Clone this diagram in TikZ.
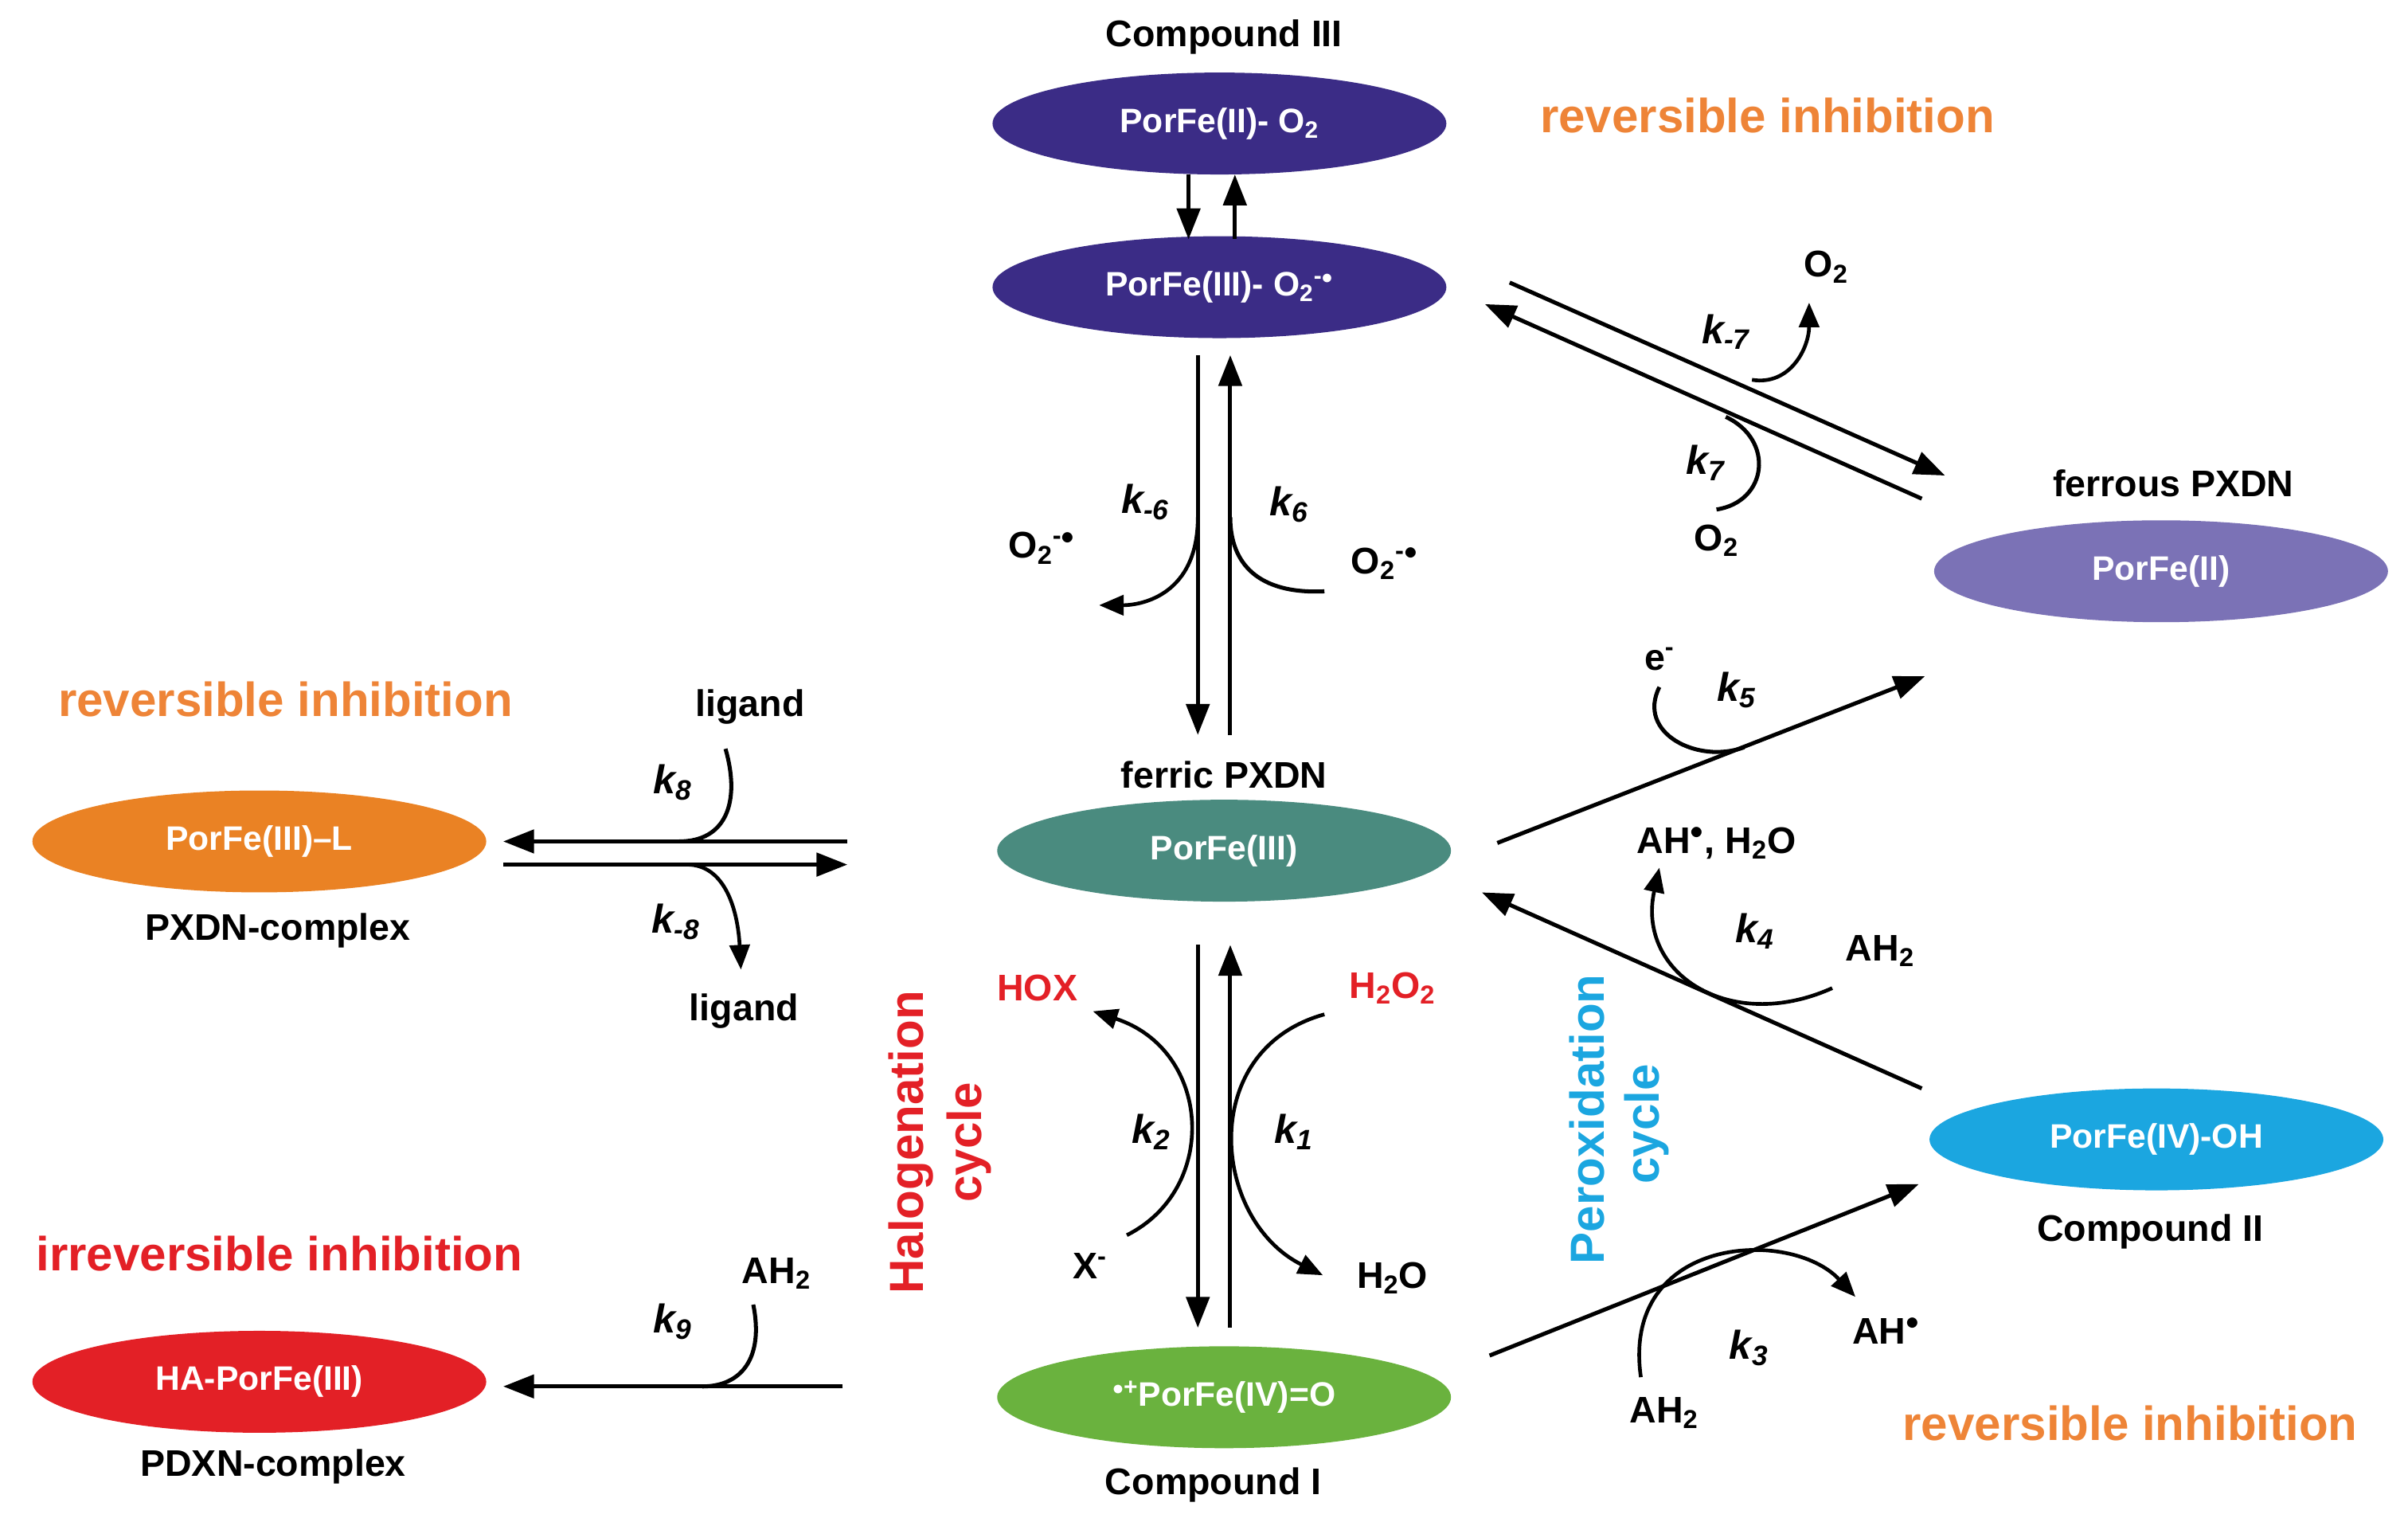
\documentclass[tikz,border=0pt]{standalone}
\usepackage{fontspec}
\setmainfont{Liberation Sans}
\usetikzlibrary{arrows.meta}
\definecolor{dpur}{HTML}{3B2C86}
\definecolor{lpur}{HTML}{7B72B6}
\definecolor{teal}{HTML}{4A8B7F}
\definecolor{orng}{HTML}{EA8224}
\definecolor{rd}{HTML}{E32026}
\definecolor{grn}{HTML}{6AB23E}
\definecolor{cyn}{HTML}{1BA6E0}
\definecolor{otxt}{HTML}{EE8437}
\begin{document}
\begin{tikzpicture}[x=1pt,y=-1pt,
 el/.style={ellipse,fill=#1,minimum width=294pt,minimum height=66pt,inner sep=0pt,text=white,font=\fontsize{22}{24}\selectfont\bfseries},
 lb/.style={font=\fontsize{24}{26}\selectfont\bfseries,inner sep=0pt},
 big/.style={font=\fontsize{31}{33}\selectfont\bfseries,inner sep=0pt},
 kk/.style={font=\fontsize{26}{28}\selectfont\bfseries\itshape,inner sep=0pt},
 ar/.style={line width=2.6pt,-{Triangle[length=20pt,width=15pt]}},
 ln/.style={line width=2.6pt},
 ca/.style={line width=2.4pt,-{Triangle[length=16pt,width=13pt]}}]
\useasboundingbox (0,0) rectangle (1560,988);
\usetikzlibrary{shapes.geometric}
\node[el=dpur] (c3) at (790,80) {PorFe(II)- O\textsubscript{2}};
\node[el=dpur] (sup) at (790,186) {PorFe(III)- O\textsubscript{2}\textsuperscript{-$\bullet$}};
\node[el=lpur] (fe2) at (1400,370) {PorFe(II)};
\node[el=teal] (fe3) at (793,551) {PorFe(III)};
\node[el=orng] (L) at (168,545) {PorFe(III)--L};
\node[el=rd] (HA) at (168,895) {HA-PorFe(III)};
\node[el=grn] (c1) at (793,905) {\textsuperscript{$\bullet$+}PorFe(IV)=O};
\node[el=cyn] (c2) at (1397,738) {PorFe(IV)-OH};
% coordinates
\coordinate (a1) at (770,113);\coordinate (a2) at (770,155);
\coordinate (b1) at (800,155);\coordinate (b2) at (800,113);
\draw[ar] (a1)--(a2); \draw[ar] (b1)--(b2);
\coordinate (d1) at (776,230);\coordinate (d2) at (776,476);
\coordinate (u1) at (797,476);\coordinate (u2) at (797,230);
\draw[ar] (d1)--(d2); \draw[ar] (u1)--(u2);
\coordinate (m1) at (776,335);\coordinate (m2) at (712,392);
\draw[ca] (m1) .. controls (776,385) and (740,392) .. (m2);
\coordinate (n1) at (858,383);\coordinate (n2) at (797,335);
\draw[ln] (n1) .. controls (815,385) and (797,365) .. (n2);
% ferrous
\coordinate (f1) at (978,183);\coordinate (f2) at (1260,308);
\coordinate (g1) at (1245,323);\coordinate (g2) at (962,197);
\draw[ar] (f1)--(f2); \draw[ar] (g1)--(g2);
\coordinate (h1) at (1135,246);\coordinate (h2) at (1172,196);
\draw[ca] (h1) .. controls (1160,250) and (1172,225) .. (h2);
\coordinate (i1) at (1118,270);\coordinate (i2) at (1112,330);
\draw[ln] (i1) .. controls (1150,285) and (1145,325) .. (i2);
% k5
\coordinate (j1) at (970,546);\coordinate (j2) at (1247,438);
\draw[ar] (j1)--(j2);
\coordinate (e1) at (1075,445);\coordinate (e2) at (1130,484);
\draw[ln] (e1) .. controls (1060,475) and (1100,495) .. (e2);
% k4
\coordinate (p1) at (1245,705);\coordinate (p2) at (960,578);
\draw[ar] (p1)--(p2);
\coordinate (q1) at (1187,640);\coordinate (q2) at (1075,562);
\draw[ca] (q1) .. controls (1120,670) and (1060,630) .. (q2);
% k3
\coordinate (r1) at (965,878);\coordinate (r2) at (1243,767);
\draw[ar] (r1)--(r2);
\coordinate (s1) at (1063,892);\coordinate (s2) at (1202,840);
\draw[ca] (s1) .. controls (1050,800) and (1160,795) .. (s2);
% ferric <-> compound I
\coordinate (t1) at (776,612);\coordinate (t2) at (776,860);
\coordinate (v1) at (797,860);\coordinate (v2) at (797,612);
\draw[ar] (t1)--(t2); \draw[ar] (v1)--(v2);
\coordinate (w1) at (858,657);\coordinate (w2) at (857,826);
\draw[ca] (w1) .. controls (775,680) and (785,790) .. (w2);
\coordinate (x1) at (730,800);\coordinate (x2) at (708,655);
\draw[ca] (x1) .. controls (790,770) and (785,680) .. (x2);
% ligand
\coordinate (l1) at (549,545);\coordinate (l2) at (326,545);
\coordinate (l3) at (326,560);\coordinate (l4) at (549,560);
\draw[ar] (l1)--(l2); \draw[ar] (l3)--(l4);
\coordinate (y1) at (470,485);\coordinate (y2) at (440,545);
\draw[ln] (y1) .. controls (480,520) and (470,545) .. (y2);
\coordinate (z1) at (445,560);\coordinate (z2) at (480,628);
\draw[ca] (z1) .. controls (470,560) and (478,590) .. (z2);
% k9
\coordinate (o1) at (546,898);\coordinate (o2) at (326,898);
\draw[ar] (o1)--(o2);
\coordinate (o3) at (488,845);\coordinate (o4) at (455,898);
\draw[ln] (o3) .. controls (495,880) and (480,898) .. (o4);
% labels
\node[lb] (t_c3) at (793,24) {Compound III};
\node[big,text=otxt] (t_r1) at (1145,75) {reversible inhibition};
\node[lb] (t_fp) at (1408,313) {ferrous PXDN};
\node[lb] (t_fe) at (793,502) {ferric PXDN};
\node[big,text=otxt] (t_r2) at (185,453) {reversible inhibition};
\node[lb] (t_pc) at (180,603) {PXDN-complex};
\node[big,text=rd] (t_ir) at (181,812) {irreversible inhibition};
\node[lb] (t_pd) at (177,950) {PDXN-complex};
\node[lb] (t_c1) at (786,962) {Compound I};
\node[lb] (t_c2) at (1393,798) {Compound II};
\node[big,text=otxt] (t_r3) at (1380,922) {reversible inhibition};
\node[big,text=rd,rotate=90] (t_h1) at (590,740) {Halogenation};
\node[big,text=rd,rotate=90] (t_h2) at (628,740) {cycle};
\node[big,text=cyn,rotate=90] (t_p1) at (1028,725) {Peroxidation};
\node[big,text=cyn,rotate=90] (t_p2) at (1067,728) {cycle};
\node[kk] (k1) at (742,325) {k\textsubscript{-6}};
\node[kk] (k2) at (835,327) {k\textsubscript{6}};
\node[kk] (k3) at (1118,215) {k\textsubscript{-7}};
\node[kk] (k4) at (1105,300) {k\textsubscript{7}};
\node[kk] (k5) at (1125,447) {k\textsubscript{5}};
\node[kk] (k6) at (1137,603) {k\textsubscript{4}};
\node[kk] (k7) at (1133,873) {k\textsubscript{3}};
\node[kk] (k8) at (746,733) {k\textsubscript{2}};
\node[kk] (k9) at (838,733) {k\textsubscript{1}};
\node[kk] (k10) at (436,507) {k\textsubscript{8}};
\node[kk] (k11) at (438,597) {k\textsubscript{-8}};
\node[kk] (k12) at (436,856) {k\textsubscript{9}};
\node[lb] (s_o1) at (675,355) {O\textsubscript{2}\textsuperscript{-$\bullet$}};
\node[lb] (s_o2) at (897,365) {O\textsubscript{2}\textsuperscript{-$\bullet$}};
\node[lb] (s_o3) at (1183,173) {O\textsubscript{2}};
\node[lb] (s_o4) at (1112,350) {O\textsubscript{2}};
\node[lb] (s_e) at (1075,427) {e\textsuperscript{-}};
\node[lb] (s_ah) at (1112,546) {AH\textsuperscript{$\bullet$}, H\textsubscript{2}O};
\node[lb] (s_ah2) at (1218,616) {AH\textsubscript{2}};
\node[lb] (s_ah3) at (1222,862) {AH\textsuperscript{$\bullet$}};
\node[lb] (s_ah4) at (1078,915) {AH\textsubscript{2}};
\node[lb] (s_ah5) at (503,825) {AH\textsubscript{2}};
\node[lb,text=rd] (s_h2o2) at (902,640) {H\textsubscript{2}O\textsubscript{2}};
\node[lb,text=rd] (s_hox) at (672,640) {HOX};
\node[lb] (s_x) at (706,820) {X\textsuperscript{-}};
\node[lb] (s_h2o) at (902,828) {H\textsubscript{2}O};
\node[lb] (s_l1) at (486,458) {ligand};
\node[lb] (s_l2) at (482,655) {ligand};
\end{tikzpicture}
\end{document}
